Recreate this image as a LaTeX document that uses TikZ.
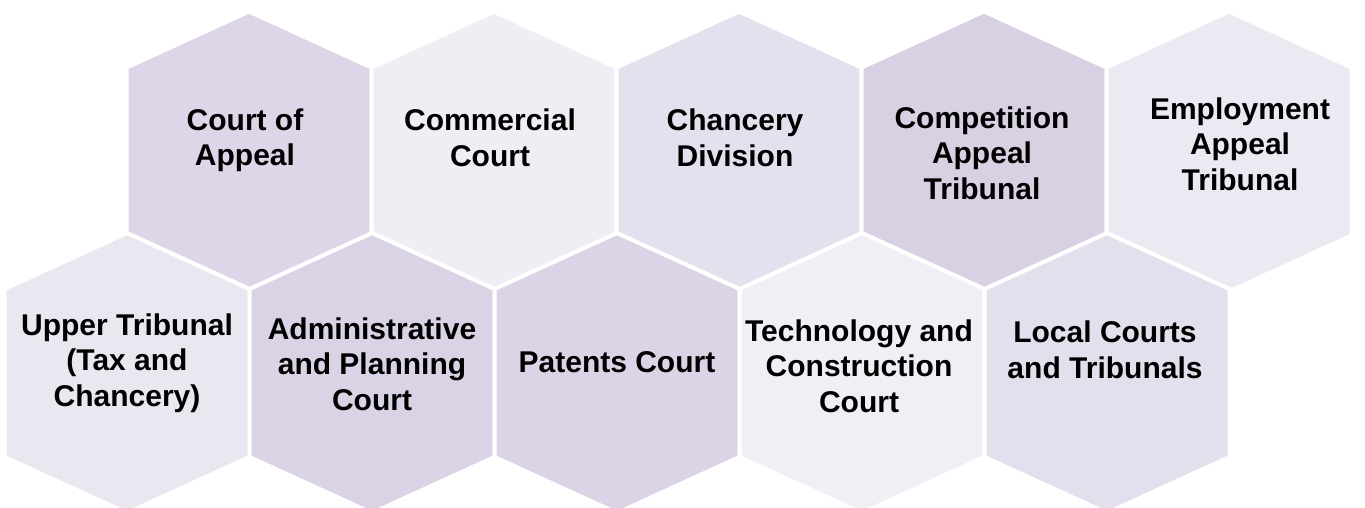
\documentclass[tikz,border=0pt]{standalone}
\usepackage{fontspec}
\setmainfont{Liberation Sans}
\usetikzlibrary{positioning}

\definecolor{hexA}{HTML}{DED6E8}
\definecolor{hexB}{HTML}{F0EEF5}
\definecolor{hexC}{HTML}{E5E0EE}
\definecolor{hexD}{HTML}{D9D0E4}
\definecolor{hexE}{HTML}{ECE9F2}
\definecolor{hexF}{HTML}{EBE7F1}
\definecolor{hexG}{HTML}{DAD2E5}
\definecolor{hexH}{HTML}{DCD4E6}
\definecolor{hexI}{HTML}{F1EFF6}
\definecolor{hexJ}{HTML}{E4DFEC}

% one cell of the cluster: centre x, centre y, colour
\newcommand{\hexcell}[3]{%
  \fill[#3,draw=white,line width=4pt,line join=miter]
    (#1,#2) ++(-122.5,-84) -- ++(122.5,-56) -- ++(122.5,56)
    -- ++(0,168) -- ++(-122.5,56) -- ++(-122.5,-56) -- cycle;}

\begin{document}
\begin{tikzpicture}[x=1pt,y=-1pt,
  lbl/.style={align=center,inner sep=0pt,text=black,
    font=\bfseries\fontsize{30}{35.5}\selectfont}]
\useasboundingbox (0,0) rectangle (1365,508);

% upper row
\hexcell{249}{151.5}{hexA}
\hexcell{494}{151.5}{hexB}
\hexcell{739}{151.5}{hexC}
\hexcell{984}{151.5}{hexD}
\hexcell{1229}{151.5}{hexE}
% lower row
\hexcell{127}{373}{hexF}
\hexcell{372}{373}{hexG}
\hexcell{617}{373}{hexH}
\hexcell{862}{373}{hexI}
\hexcell{1107}{373}{hexJ}

\node[lbl] (appeal) at (245,140) {Court of\\Appeal};
\node[lbl] (commercial) at (490,138) {Commercial\\Court};
\node[lbl] (chancery) at (735,138) {Chancery\\Division};
\node[lbl] (competition) at (982,153) {Competition\\Appeal\\Tribunal};
\node[lbl] (employment) at (1240,144) {Employment\\Appeal\\Tribunal};

\node[lbl] (upper) at (127,363) {Upper Tribunal\\(Tax and\\Chancery)};
\node[lbl] (admin) at (372,364) {Administrative\\and Planning\\Court};
\node[lbl] (patents) at (617,362) {Patents Court};
\node[lbl] (tcc) at (859,366) {Technology and\\Construction\\Court};
\node[lbl] (local) at (1105,350) {Local Courts\\and Tribunals};
\end{tikzpicture}
\end{document}
